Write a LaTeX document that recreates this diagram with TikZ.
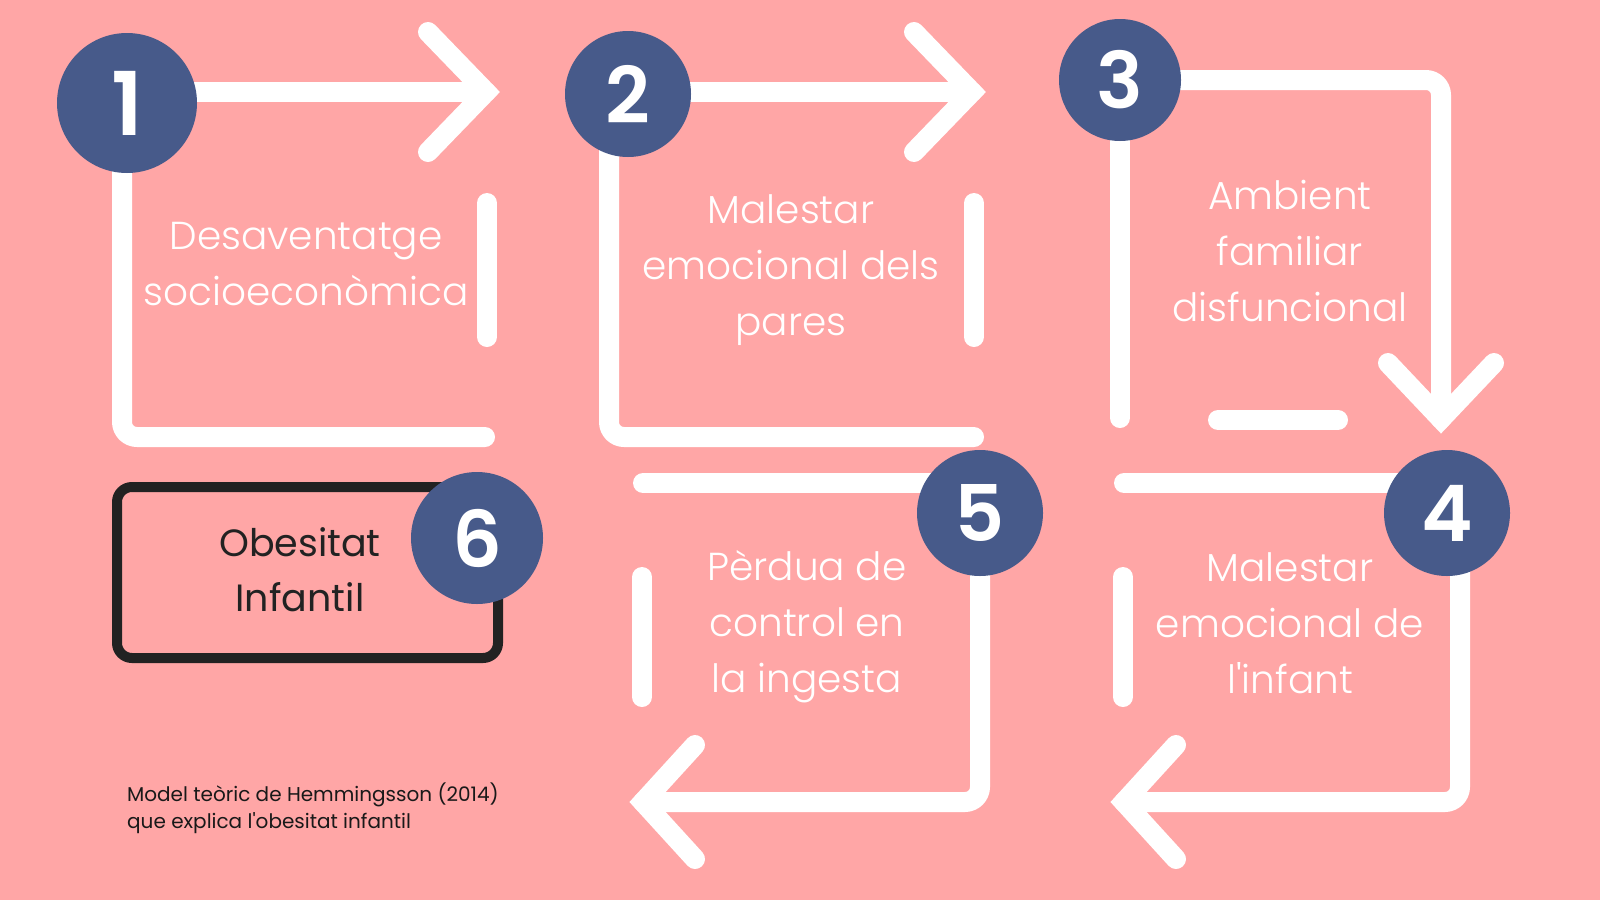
\documentclass[tikz,border=0pt]{standalone}
\usepackage{fontspec}
\setmainfont{Poppins}
\IfFontExistsTF{Poppins Light}{\newfontfamily\lightfont{Poppins Light}}{\newfontfamily\lightfont{Poppins}}
\IfFontExistsTF{Poppins SemiBold}{\newfontfamily\numfont{Poppins SemiBold}}{\newfontfamily\numfont{Poppins}[UprightFont=*-Bold]}
\usetikzlibrary{positioning}
\usetikzlibrary{calc}
\pgfdeclarelayer{background}
\pgfsetlayers{background,main}
\definecolor{bgcolor}{RGB}{255, 166, 166}
\definecolor{stepcolor}{RGB}{71, 90, 138}
\definecolor{resultcolor}{RGB}{34, 34, 34}
\tikzstyle{flow} = [white, line width=20pt, line cap=round, line join=round, rounded corners=15pt]
\tikzstyle{head} = [white, line width=20pt, line cap=round, line join=miter]
\tikzstyle{stepnum} = [circle, fill=stepcolor, text=white, inner sep=0pt, font=\numfont\fontsize{78}{78}\selectfont]
\tikzstyle{steptext} = [text=white, align=center, inner sep=0pt, font=\lightfont\fontsize{39}{56}\selectfont]
\tikzstyle{resultbox} = [draw=resultcolor, line width=10pt, rounded corners=15pt]

\begin{document}
\begin{tikzpicture}[x=1pt, y=-1pt]

		%
		% Steps
		\node [stepnum, minimum size=140pt, font=\numfont\fontsize{88}{88}\selectfont] at (127,103) (c1) {1};
		\node [stepnum, minimum size=126pt] at (628,94) (c2) {2};
		\node [stepnum, minimum size=122pt] at (1120,80) (c3) {3};
		\node [stepnum, minimum size=126pt] at (1447,513) (c4) {4};
		\node [stepnum, minimum size=126pt] at (980,513) (c5) {5};
		\node [stepnum, minimum size=132pt] at (477,538) (c6) {6};

		\coordinate (tip1) at (486,92);
		\coordinate (tip2) at (972,92);
		\coordinate (tip3) at (1441,419);
		\coordinate (tip4) at (1124,802);
		\coordinate (tip5) at (643,802);

		\begin{pgfonlayer}{background}
		\fill [bgcolor] (0,0) rectangle (1600,900);

		% First step
		\draw [flow] ([xshift=-5]c1.center) |- (485,437);
		\draw [flow] (487,203) -- (487,337);
		\draw [flow] (c1.center |- tip1) -- (tip1);
		\draw [head] (tip1) ++(-58,-60) -- (tip1) -- ++(-58,60);

		% Second step
		\draw [flow] ([xshift=-19]c2.center) |- (974,437);
		\draw [flow] (974,203) -- (974,337);
		\draw [flow] (c2.center |- tip2) -- (tip2);
		\draw [head] (tip2) ++(-58,-60) -- (tip2) -- ++(-58,60);

		% Third step
		\draw [flow] (c3.center) -| (tip3);
		\draw [flow] (c3.center) -- ++(0,338);
		\draw [flow] (1218,420) -- (1338,420);
		\draw [head] (tip3) ++(-53,-56) -- (tip3) -- ++(53,-56);

		% Fourth step
		\draw [flow] ([yshift=30]c4.center) -- (1124,483);
		\draw [flow] ([xshift=13]c4.center) |- (tip4);
		\draw [flow] (1123,577) -- (1123,697);
		\draw [head] (tip4) ++(52,-57) -- (tip4) -- ++(52,57);

		% Fifth step
		\draw [flow] ([yshift=30]c5.center) -- (643,483);
		\draw [flow] (c5.center) |- (tip5);
		\draw [flow] (642,577) -- (642,697);
		\draw [head] (tip5) ++(52,-57) -- (tip5) -- ++(52,57);

		% Result
		\draw [resultbox] (117,487) rectangle (498,658);
		\end{pgfonlayer}

		%
		% Texts
		\node [steptext] at (306,264) (t1) {Desaventatge\\socioeconòmica};
		\node [steptext] at (791,270) (t2) {Malestar\\emocional dels\\pares};
		\node [steptext] at (1290,251) (t3) {Ambient\\familiar\\disfuncional};
		\node [steptext] at (1290,623) (t4) {Malestar\\emocional de\\l'infant};
		\node [steptext] at (807,627) (t5) {Pèrdua de\\control en\\la ingesta};
		\node [steptext, text=resultcolor, font=\fontsize{38}{55}\selectfont] at (300,570) (t6) {Obesitat\\Infantil};

		\node [anchor=north west, align=left, inner sep=0pt, text=black!90, font=\fontsize{20}{27}\selectfont] at (127,783) (note) {Model teòric de Hemmingsson (2014)\\que explica l\textquotesingle obesitat infantil};

	\end{tikzpicture}
\end{document}
